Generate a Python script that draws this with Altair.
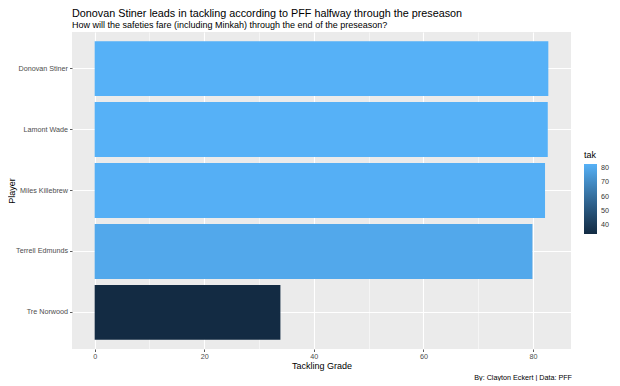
import altair as alt
import pandas as pd

players = ["Donovan Stiner", "Lamont Wade", "Miles Killebrew", "Terrell Edmunds", "Tre Norwood"]
grades = [82.8, 82.7, 82.2, 79.9, 33.9]
x_ticks = [0, 10, 20, 30, 40, 50, 60, 70, 80]
legend_ticks = [40, 50, 60, 70, 80]

df = pd.DataFrame({"Player": players, "tak": grades})
cap = pd.DataFrame({"t": ["By: Clayton Eckert | Data: PFF"]})

W, H = 499, 317
FONT = "Liberation Sans"
gmax = max(grades)

bars = alt.Chart(df).mark_bar().encode(
    x=alt.X(
        "tak:Q",
        scale=alt.Scale(domain=[-0.05 * gmax, 1.05 * gmax], nice=False, zero=False),
        axis=alt.Axis(
            title="Tackling Grade",
            values=x_ticks,
            labelExpr="datum.value % 20 === 0 ? datum.label : ''",
            grid=True,
            gridColor="white",
            gridWidth={"condition": {"test": "datum.value % 20 === 0", "value": 1.1}, "value": 0.5},
            tickOpacity={"condition": {"test": "datum.value % 20 === 0", "value": 1}, "value": 0},
            tickColor="#333333",
            tickSize=2.5,
            tickWidth=0.8,
            domain=False,
            labelFontSize=7.2,
            labelColor="#4D4D4D",
            labelPadding=1,
            titleFontSize=9,
            titleFontWeight="normal",
            titleColor="black",
            titlePadding=2,
        ),
    ),
    y=alt.Y(
        "Player:N",
        sort=players,
        scale=alt.Scale(paddingInner=0.1, paddingOuter=0.15),
        axis=alt.Axis(
            title="Player",
            grid=True,
            gridColor="white",
            gridWidth=1.1,
            bandPosition=0.5,
            tickColor="#333333",
            tickSize=2.5,
            tickWidth=0.8,
            domain=False,
            labelFontSize=7.2,
            labelColor="#4D4D4D",
            labelPadding=2,
            titleFontSize=9,
            titleFontWeight="normal",
            titleColor="black",
            titleX=-61,
            titleBaseline="middle",
        ),
    ),
    color=alt.Color(
        "tak:Q",
        scale=alt.Scale(
            domain=[min(grades), max(grades)],
            range=["#132B43", "#56B1F7"],
            interpolate="lab",
        ),
        legend=alt.Legend(
            title="tak",
            orient="none",
            legendX=512,
            legendY=119,
            values=legend_ticks,
            gradientLength=70,
            gradientThickness=13,
            gradientStrokeWidth=0,
            labelFontSize=7.2,
            labelColor="#333333",
            labelOffset=4,
            titleFontSize=9,
            titleFontWeight="normal",
            titleColor="black",
            titlePadding=4,
            direction="vertical",
        ),
    ),
)

caption = alt.Chart(cap).mark_text(
    align="right", baseline="alphabetic", fontSize=7.2, font=FONT, color="black"
).encode(
    text="t:N",
    x=alt.value(W + 1),
    y=alt.value(H + 31),
)

chart = alt.layer(bars, caption).properties(
    width=W,
    height=H,
    title=alt.TitleParams(
        text="Donovan Stiner leads in tackling according to PFF halfway through the preseason",
        subtitle="How will the safeties fare (including Minkah) through the end of the preseason?",
        anchor="start",
        frame="group",
        fontSize=10.8,
        fontWeight="normal",
        color="black",
        subtitleFontSize=9,
        subtitleColor="black",
        subtitlePadding=2,
        offset=2,
        font=FONT,
        subtitleFont=FONT,
    ),
    autosize=alt.AutoSizeParams(type="none"),
    padding={"left": 64, "top": 24, "right": 41, "bottom": 32},
).configure(
    font=FONT,
    background="white",
).configure_view(
    fill="#EBEBEB",
    stroke=None,
)

chart.save("out.html", embed_options={"renderer": "svg", "actions": False})
